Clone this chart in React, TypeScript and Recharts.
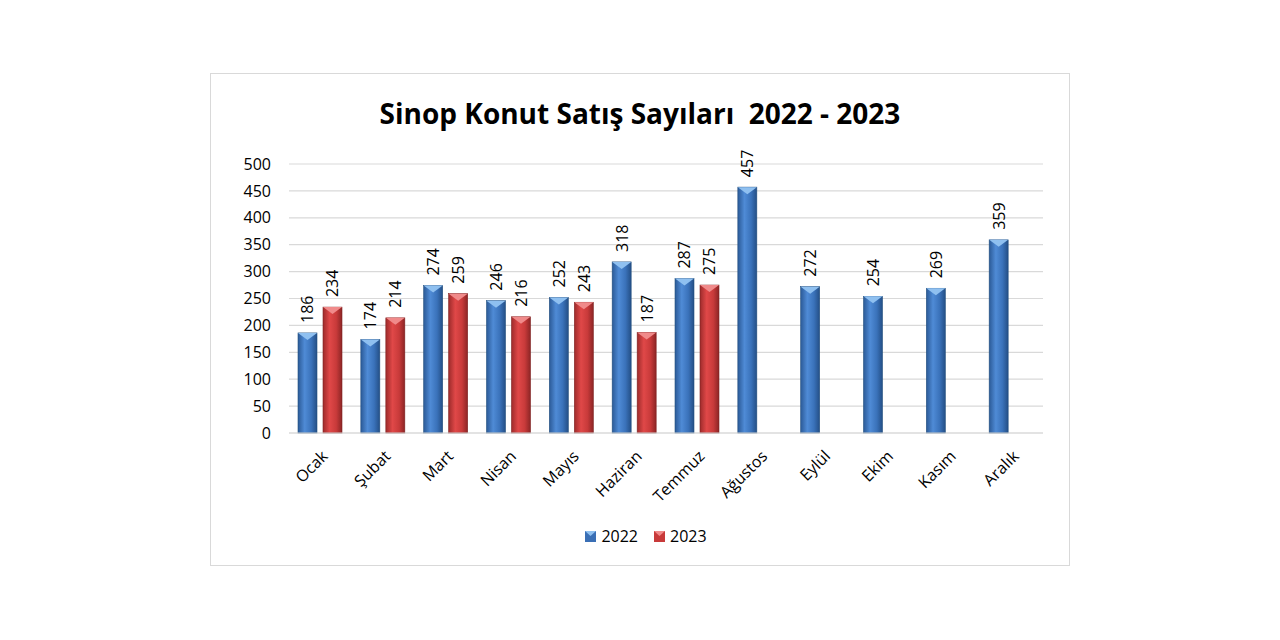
import React from "react";
import { Bar, BarChart, CartesianGrid, Legend, XAxis, YAxis } from "recharts";

const months = ["Ocak", "Şubat", "Mart", "Nisan", "Mayıs", "Haziran", "Temmuz", "Ağustos", "Eylül", "Ekim", "Kasım", "Aralık"];
const sales2022 = [186, 174, 274, 246, 252, 318, 287, 457, 272, 254, 269, 359];
const sales2023: (number | null)[] = [234, 214, 259, 216, 243, 187, 275, null, null, null, null, null];
const yTicks = [0, 50, 100, 150, 200, 250, 300, 350, 400, 450, 500];

const chartData = months.map((m, i) => ({ month: m, y2022: sales2022[i], y2023: sales2023[i] }));

const FONT = "'Open Sans', 'Liberation Sans', sans-serif";

// Bar with horizontal shading and a light bevel on top
function makeShape(gradId: string, capColor: string, edge: string) {
    return (props: any) => {
        const { x, y, width, height } = props;
        if (!height || height <= 0) return <g />;
        const cap = Math.min(7, height);
        return (
            <g>
                <rect x={x} y={y} width={width} height={height} fill={`url(#${gradId})`} stroke={edge} strokeWidth={0.6} />
                <polygon points={`${x},${y} ${x + width},${y} ${x + width / 2},${y + cap}`} fill={capColor} />
            </g>
        );
    };
}

function ValueLabel(props: any) {
    const { x, y, width, value } = props;
    if (value === null || value === undefined) return null;
    const cx = x + width / 2;
    const cy = y - 10;
    return (
        <text
            x={cx}
            y={cy}
            transform={`rotate(-90 ${cx} ${cy})`}
            textAnchor="start"
            dominantBaseline="central"
            fontSize={16}
            fontFamily={FONT}
            fill="#000"
        >
            {value}
        </text>
    );
}

function MonthTick(props: any) {
    const { x, y, payload } = props;
    return (
        <text
            x={x + 4}
            y={y + 12}
            transform={`rotate(-45 ${x + 4} ${y + 12})`}
            textAnchor="end"
            dominantBaseline="central"
            fontSize={16}
            fontFamily={FONT}
            fill="#000"
        >
            {payload.value}
        </text>
    );
}

function LegendContent() {
    const items = [
        { label: "2022", color: "#3a6fb5", cap: "#8fc0f0" },
        { label: "2023", color: "#c83a3a", cap: "#f08a8a" },
    ];
    return (
        <div style={{ display: "flex", justifyContent: "center", gap: 16, fontFamily: FONT, fontSize: 16, color: "#000", paddingLeft: 10 }}>
            {items.map((it) => (
                <div key={it.label} style={{ display: "flex", alignItems: "center", gap: 5 }}>
                    <svg width={11} height={11}>
                        <rect x={0} y={0} width={11} height={11} fill={it.color} />
                        <polygon points="0,0 11,0 5.5,5" fill={it.cap} />
                    </svg>
                    <span>{it.label}</span>
                </div>
            ))}
        </div>
    );
}

export default function App() {
    return (
        <div style={{ position: "absolute", left: 0, top: 0, width: 1280, height: 640, background: "#fff" }}>
            <div
                style={{
                    position: "absolute",
                    left: 210,
                    top: 73,
                    width: 858,
                    height: 491,
                    border: "1px solid #d9d9d9",
                }}
            >
                <div
                    style={{
                        position: "absolute",
                        left: 0,
                        top: 20,
                        width: "100%",
                        textAlign: "center",
                        fontFamily: FONT,
                        fontWeight: 700,
                        fontSize: 28,
                        color: "#000",
                        whiteSpace: "pre",
                    }}
                >
                    {"Sinop Konut Satış Sayıları  2022 - 2023"}
                </div>
                <BarChart
                    width={858}
                    height={491}
                    data={chartData}
                    margin={{ top: 90, right: 26, left: 28, bottom: 30 }}
                    barSize={19}
                    barGap={6}
                >
                    <defs>
                        <linearGradient id="g2022" x1="0" y1="0" x2="1" y2="0">
                            <stop offset="0%" stopColor="#2b5a97" />
                            <stop offset="35%" stopColor="#4f8bd6" />
                            <stop offset="70%" stopColor="#3a72ba" />
                            <stop offset="100%" stopColor="#244f86" />
                        </linearGradient>
                        <linearGradient id="g2023" x1="0" y1="0" x2="1" y2="0">
                            <stop offset="0%" stopColor="#9e2b2b" />
                            <stop offset="35%" stopColor="#e04848" />
                            <stop offset="70%" stopColor="#c83a3a" />
                            <stop offset="100%" stopColor="#8c2525" />
                        </linearGradient>
                    </defs>
                    <CartesianGrid vertical={false} stroke="#d9d9d9" strokeWidth={1.2} />
                    <XAxis
                        dataKey="month"
                        tick={<MonthTick />}
                        tickLine={false}
                        axisLine={{ stroke: "#d9d9d9", strokeWidth: 1.2 }}
                        interval={0}
                        height={80}
                    />
                    <YAxis
                        domain={[0, 500]}
                        ticks={yTicks}
                        width={50}
                        axisLine={false}
                        tickLine={false}
                        tick={{ fontSize: 16, fill: "#000", fontFamily: FONT, dx: -10 }}
                    />
                    <Legend content={<LegendContent />} verticalAlign="bottom" wrapperStyle={{ bottom: 18 }} />
                    <Bar
                        dataKey="y2022"
                        name="2022"
                        shape={makeShape("g2022", "#8fc0f0", "#24507f")}
                        label={<ValueLabel />}
                        isAnimationActive={false}
                    />
                    <Bar
                        dataKey="y2023"
                        name="2023"
                        shape={makeShape("g2023", "#f08a8a", "#7f2222")}
                        label={<ValueLabel />}
                        isAnimationActive={false}
                    />
                </BarChart>
            </div>
        </div>
    );
}
